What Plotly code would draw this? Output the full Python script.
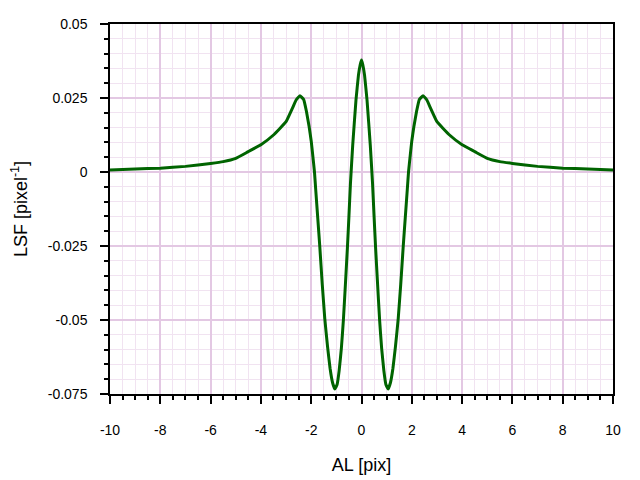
import plotly.graph_objects as go

al_pix = [-10, -9, -8, -7, -6, -5.5, -5, -4.5, -4, -3.5, -3, -2.75, -2.6, -2.45, -2.3, -2.19,
          -2.08, -2.0, -1.94, -1.87, -1.82, -1.74, -1.66, -1.56, -1.46, -1.35, -1.25, -1.15,
          -1.06, -0.97, -0.89, -0.8, -0.72, -0.64, -0.56, -0.5, -0.44, -0.35, -0.22, -0.12,
          -0.05, 0,
          0.05, 0.12, 0.22, 0.35, 0.44, 0.5, 0.56, 0.64, 0.72, 0.8, 0.89, 0.97, 1.06, 1.15,
          1.25, 1.35, 1.46, 1.56, 1.66, 1.74, 1.82, 1.87, 1.94, 2.0, 2.08, 2.19, 2.3, 2.45,
          2.6, 2.75, 3, 3.5, 4, 4.5, 5, 5.5, 6, 7, 8, 9, 10]
lsf = [0.0007, 0.0010, 0.0013, 0.0019, 0.0029, 0.0035, 0.0046, 0.0069, 0.0092, 0.0125,
       0.0170, 0.0215, 0.0243, 0.0258, 0.0245, 0.0205, 0.0152, 0.0105, 0.0058, 0.0000,
       -0.0060, -0.0155, -0.0250, -0.0380, -0.0495, -0.0590, -0.0663, -0.0712, -0.0733,
       -0.0718, -0.0672, -0.0595, -0.0500, -0.0380, -0.0255, -0.0150, -0.0040, 0.0090,
       0.0243, 0.0328, 0.0363, 0.0378,
       0.0363, 0.0328, 0.0243, 0.0090, -0.0040, -0.0150, -0.0255, -0.0380, -0.0500,
       -0.0595, -0.0672, -0.0718, -0.0733, -0.0712, -0.0663, -0.0590, -0.0495, -0.0380,
       -0.0250, -0.0155, -0.0060, 0.0000, 0.0058, 0.0105, 0.0152, 0.0205, 0.0245, 0.0258,
       0.0243, 0.0215, 0.0170, 0.0125, 0.0092, 0.0069, 0.0046, 0.0035, 0.0029, 0.0019,
       0.0013, 0.0010, 0.0007]

x_ticks = [-10, -8, -6, -4, -2, 0, 2, 4, 6, 8, 10]
x_tick_text = ["-10", "-8", "-6", "-4", "-2", "0", "2", "4", "6", "8", "10"]
y_ticks = [0.05, 0.025, 0, -0.025, -0.05, -0.075]
y_tick_text = ["0.05", "0.025", "0", "-0.025", "-0.05", "-0.075"]

fig = go.Figure()
fig.add_trace(go.Scatter(x=al_pix, y=lsf, mode="lines",
                         line=dict(color="#006400", width=3, shape="spline", smoothing=0.3),
                         showlegend=False))

major_grid = "#e3c8e3"
minor_grid = "#f1e3f1"
fig.update_xaxes(range=[-10, 10], tickmode="array", tickvals=x_ticks, ticktext=x_tick_text,
                 showgrid=True, gridcolor=major_grid, gridwidth=1.5,
                 ticks="outside", ticklen=8, tickwidth=1.5, tickcolor="black",
                 showline=True, linecolor="black", linewidth=1.5, mirror=True,
                 zeroline=False, ticklabelstandoff=14, automargin=False,
                 minor=dict(tickmode="linear", dtick=0.5, tick0=0, showgrid=True,
                            gridcolor=minor_grid, gridwidth=1,
                            ticks="outside", ticklen=4, tickwidth=1.5, tickcolor="black"),
                 title=dict(text="AL [pix]", font=dict(size=18), standoff=22),
                 tickfont=dict(size=14))
fig.update_yaxes(range=[-0.075, 0.05], tickmode="array", tickvals=y_ticks, ticktext=y_tick_text,
                 showgrid=True, gridcolor=major_grid, gridwidth=1.5,
                 ticks="outside", ticklen=8, tickwidth=1.5, tickcolor="black",
                 showline=True, linecolor="black", linewidth=1.5, mirror=True,
                 zeroline=False, ticklabelstandoff=10, automargin=False,
                 minor=dict(tickmode="linear", dtick=0.005, tick0=0, showgrid=True,
                            gridcolor=minor_grid, gridwidth=1,
                            ticks="outside", ticklen=4, tickwidth=1.5, tickcolor="black"),
                 title=dict(text="LSF [pixel<sup>-1</sup>]", font=dict(size=18), standoff=20),
                 tickfont=dict(size=14))
fig.update_layout(width=632, height=472, margin=dict(l=102, r=27, t=16, b=86),
                  plot_bgcolor="white", paper_bgcolor="white",
                  font=dict(family="Liberation Sans, Arial, sans-serif", color="black"))
fig.write_html("out.html")
